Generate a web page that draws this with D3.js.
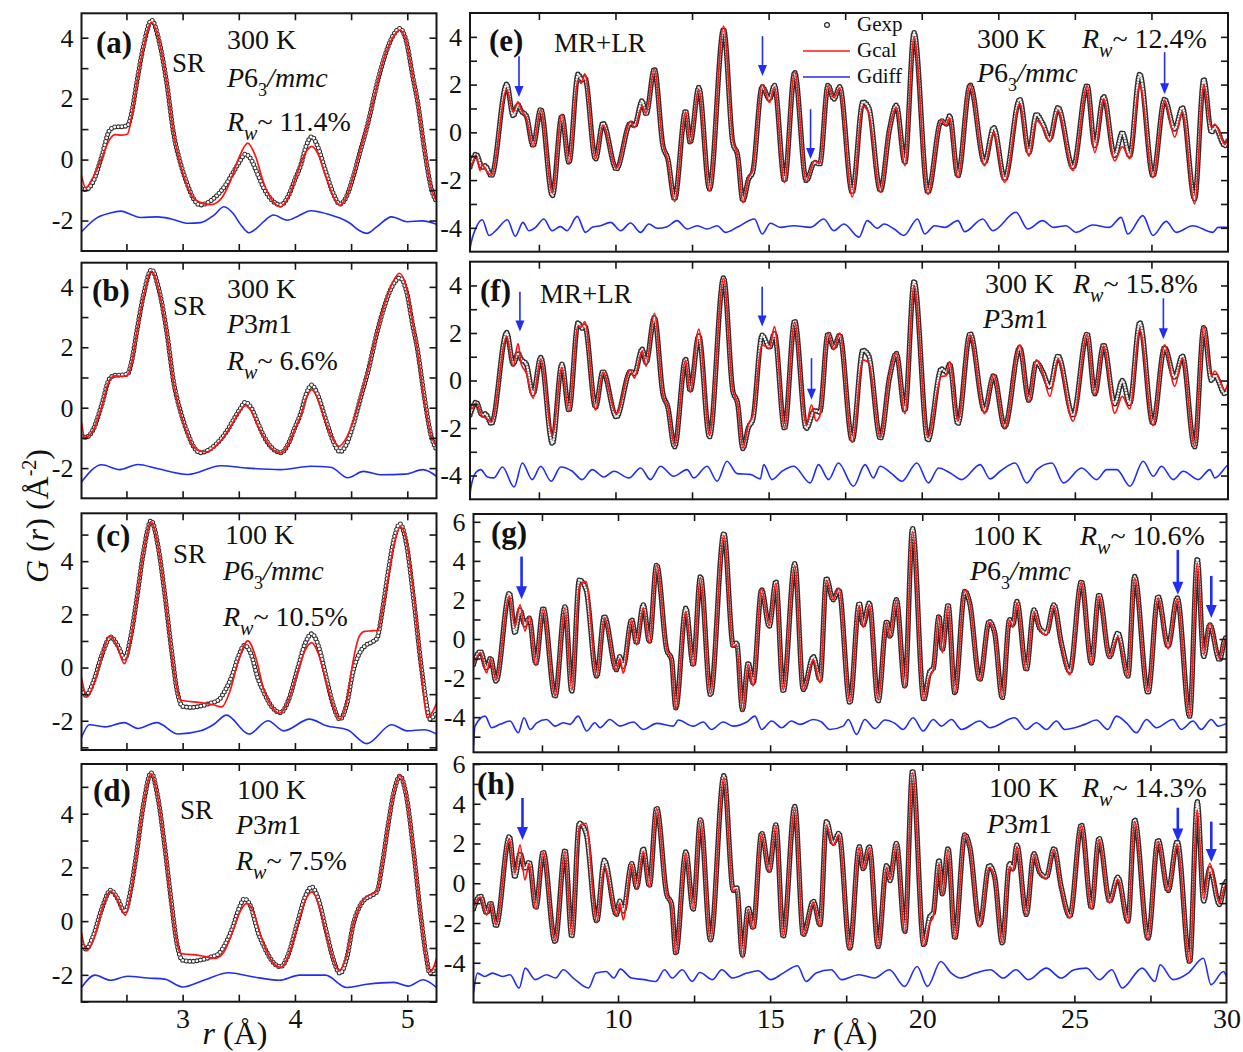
<!DOCTYPE html>
<html>
<head>
<meta charset="utf-8">
<script src="https://cdn.jsdelivr.net/npm/d3@7"></script>
<style>
  body { margin: 0; background: #fff; }
  svg { display: block; }
  text { font-family: "Liberation Serif", "Times New Roman", serif; fill: #111; }
</style>
</head>
<body>
<script>
// ---------- short-range G(r), 300 K ----------
const sr300Exp = [[2.10,-0.95],[2.14,-0.98],[2.20,-0.75],[2.28,0.10],[2.35,0.96],[2.40,1.07],[2.46,1.08],[2.51,1.12],[2.55,1.6],[2.59,2.48],[2.65,3.7],[2.724,4.57],[2.79,3.9],[2.86,2.48],[2.92,0.85],[2.98,-0.1],[3.04,-0.79],[3.10,-1.30],[3.155,-1.49],[3.22,-1.42],[3.30,-1.2],[3.38,-0.85],[3.45,-0.42],[3.51,-0.05],[3.557,0.18],[3.61,0.0],[3.67,-0.5],[3.72,-0.92],[3.80,-1.35],[3.875,-1.49],[3.94,-1.2],[4.0,-0.65],[4.05,-0.20],[4.10,0.45],[4.15,0.75],[4.20,0.45],[4.28,-0.46],[4.34,-1.1],[4.40,-1.46],[4.46,-1.2],[4.52,-0.55],[4.58,0.26],[4.65,1.2],[4.73,2.48],[4.80,3.4],[4.87,4.05],[4.935,4.3],[4.99,3.9],[5.05,2.7],[5.09,1.94],[5.15,0.4],[5.21,-0.89],[5.26,-1.38]];
const sr300CalP63 = [[2.10,-0.52],[2.138,-0.93],[2.20,-0.6],[2.28,0.05],[2.35,0.66],[2.40,0.82],[2.45,0.80],[2.51,0.84],[2.55,1.5],[2.59,2.45],[2.65,3.65],[2.724,4.5],[2.79,3.9],[2.86,2.48],[2.92,0.85],[2.98,-0.15],[3.04,-0.85],[3.10,-1.28],[3.17,-1.42],[3.25,-1.48],[3.34,-1.30],[3.42,-0.75],[3.50,0.05],[3.58,0.54],[3.65,0.1],[3.72,-0.75],[3.80,-1.35],[3.87,-1.55],[3.94,-1.25],[4.02,-0.45],[4.09,0.2],[4.15,0.43],[4.21,0.15],[4.28,-0.6],[4.34,-1.2],[4.40,-1.50],[4.46,-1.2],[4.52,-0.55],[4.58,0.3],[4.65,1.2],[4.73,2.45],[4.80,3.4],[4.87,4.0],[4.935,4.25],[4.99,3.9],[5.05,2.7],[5.09,1.94],[5.15,0.4],[5.21,-0.89],[5.26,-1.35]];
const sr300CalP3m1 = [[2.10,-0.49],[2.13,-0.98],[2.20,-0.78],[2.28,0.05],[2.35,0.92],[2.40,1.05],[2.46,1.04],[2.51,1.07],[2.55,1.55],[2.59,2.45],[2.65,3.65],[2.724,4.52],[2.79,3.85],[2.86,2.45],[2.92,0.8],[2.98,-0.15],[3.04,-0.85],[3.10,-1.30],[3.17,-1.45],[3.22,-1.46],[3.30,-1.25],[3.38,-0.9],[3.45,-0.48],[3.51,-0.12],[3.557,0.07],[3.61,-0.1],[3.67,-0.6],[3.72,-0.95],[3.80,-1.38],[3.875,-1.50],[3.94,-1.22],[4.0,-0.7],[4.05,-0.28],[4.10,0.32],[4.15,0.60],[4.20,0.32],[4.28,-0.55],[4.34,-1.05],[4.39,-1.28],[4.45,-1.05],[4.52,-0.45],[4.58,0.3],[4.65,1.25],[4.73,2.5],[4.80,3.45],[4.87,4.15],[4.93,4.45],[4.99,4.0],[5.05,2.75],[5.09,1.9],[5.15,0.3],[5.21,-0.9],[5.26,-1.28]];
const sr300DiffP63 = [[2.10,-2.37],[2.23,-1.93],[2.35,-1.76],[2.45,-1.69],[2.55,-1.82],[2.63,-1.90],[2.78,-1.88],[2.9,-1.95],[3.05,-2.09],[3.16,-2.07],[3.28,-1.82],[3.368,-1.55],[3.45,-1.77],[3.52,-2.15],[3.59,-2.40],[3.66,-2.25],[3.72,-2.04],[3.81,-1.82],[3.93,-1.99],[4.03,-1.85],[4.14,-1.68],[4.22,-1.72],[4.32,-1.82],[4.40,-1.92],[4.49,-2.09],[4.57,-2.32],[4.64,-2.42],[4.73,-2.20],[4.86,-1.88],[5.00,-2.04],[5.13,-2.01],[5.26,-2.12]];
const sr300DiffP3m1 = [[2.10,-2.46],[2.28,-1.89],[2.44,-2.05],[2.60,-1.88],[2.78,-2.02],[3.05,-2.21],[3.34,-1.92],[3.58,-2.00],[3.87,-2.05],[4.14,-1.94],[4.32,-1.97],[4.47,-2.32],[4.61,-2.11],[4.76,-2.22],[4.98,-2.20],[5.14,-2.05],[5.26,-2.27]];

// ---------- short-range G(r), 100 K ----------
const sr100Exp = [[2.10,-0.82],[2.14,-1.04],[2.20,-0.6],[2.28,0.45],[2.36,1.15],[2.42,0.85],[2.485,0.35],[2.54,1.2],[2.59,2.52],[2.65,4.3],[2.72,5.52],[2.78,4.6],[2.84,2.8],[2.90,0.7],[2.95,-0.85],[3.0,-1.46],[3.08,-1.50],[3.16,-1.45],[3.24,-1.35],[3.32,-1.22],[3.38,-0.85],[3.44,-0.3],[3.50,0.45],[3.55,0.83],[3.61,0.5],[3.67,-0.4],[3.72,-0.9],[3.80,-1.5],[3.87,-1.70],[3.94,-1.25],[4.02,-0.1],[4.09,0.9],[4.15,1.27],[4.21,0.8],[4.28,-0.4],[4.34,-1.4],[4.40,-1.94],[4.46,-1.4],[4.52,-0.1],[4.57,0.5],[4.62,0.8],[4.68,0.95],[4.73,1.1],[4.78,2.2],[4.83,3.6],[4.88,4.8],[4.935,5.4],[4.99,4.7],[5.06,2.45],[5.12,0.2],[5.17,-1.35],[5.20,-1.94],[5.23,-1.85],[5.26,-1.70]];
const sr100CalP63 = [[2.10,-0.38],[2.15,-1.10],[2.21,-0.6],[2.28,0.4],[2.35,1.19],[2.42,0.8],[2.48,0.15],[2.54,1.1],[2.59,2.5],[2.65,4.3],[2.72,5.49],[2.78,4.6],[2.84,2.8],[2.90,0.6],[2.95,-0.8],[2.98,-1.23],[3.08,-1.28],[3.16,-1.32],[3.27,-1.40],[3.35,-1.48],[3.42,-0.9],[3.50,0.3],[3.58,1.0],[3.65,0.4],[3.72,-0.8],[3.80,-1.5],[3.86,-1.72],[3.94,-1.25],[4.02,-0.2],[4.09,0.65],[4.15,0.94],[4.21,0.5],[4.28,-0.55],[4.34,-1.45],[4.40,-1.94],[4.46,-1.3],[4.52,0.3],[4.57,1.15],[4.62,1.36],[4.68,1.38],[4.74,1.40],[4.78,2.2],[4.82,3.13],[4.88,4.6],[4.94,5.29],[4.99,4.8],[5.06,2.6],[5.12,0.1],[5.18,-1.88],[5.22,-1.7],[5.26,-1.35]];
const sr100CalP3m1 = [[2.10,-0.43],[2.145,-1.10],[2.21,-0.65],[2.28,0.4],[2.36,1.12],[2.42,0.8],[2.49,0.22],[2.54,1.1],[2.59,2.5],[2.65,4.3],[2.72,5.48],[2.78,4.6],[2.84,2.8],[2.90,0.6],[2.95,-0.8],[2.98,-1.2],[3.05,-1.24],[3.12,-1.26],[3.20,-1.32],[3.29,-1.39],[3.36,-1.2],[3.44,-0.45],[3.50,0.25],[3.57,0.66],[3.63,0.35],[3.70,-0.6],[3.78,-1.4],[3.875,-1.72],[3.94,-1.3],[4.02,-0.2],[4.09,0.75],[4.15,1.09],[4.21,0.65],[4.28,-0.5],[4.34,-1.4],[4.39,-1.84],[4.46,-1.3],[4.52,-0.1],[4.57,0.5],[4.62,0.85],[4.68,1.0],[4.73,1.12],[4.78,2.2],[4.83,3.6],[4.88,4.8],[4.935,5.43],[4.99,4.7],[5.06,2.45],[5.12,0.2],[5.17,-1.4],[5.20,-1.9],[5.23,-1.75],[5.26,-1.39]];
const sr100DiffP63 = [[2.10,-2.63],[2.17,-2.15],[2.31,-2.23],[2.48,-2.07],[2.60,-2.29],[2.77,-2.07],[2.96,-2.5],[3.16,-2.38],[3.28,-2.13],[3.39,-1.79],[3.59,-2.50],[3.76,-2.0],[3.90,-2.38],[4.13,-1.94],[4.28,-2.19],[4.47,-2.35],[4.64,-2.86],[4.86,-2.15],[5.00,-2.38],[5.15,-2.34],[5.26,-2.5]];
const sr100DiffP3m1 = [[2.10,-2.47],[2.22,-2.01],[2.36,-2.2],[2.51,-2.05],[2.69,-2.12],[2.84,-2.16],[3.0,-2.45],[3.2,-2.18],[3.41,-1.92],[3.62,-2.07],[3.86,-2.2],[4.04,-2.01],[4.27,-2.01],[4.46,-2.47],[4.64,-2.35],[4.88,-2.28],[5.01,-2.42],[5.14,-2.18],[5.26,-2.47]];

// ---------- medium + long range G(r), 300 K ----------
const lr300Exp = [[5.25,-1.45],[5.30,-1.26],[5.45,-0.91],[5.65,-1.46],[5.75,-1.40],[5.95,-1.82],[6.45,2.02],[6.66,0.69],[6.82,1.15],[6.92,0.9],[7.09,0.69],[7.31,-0.56],[7.56,0.97],[7.94,-2.65],[8.25,0.69],[8.48,-1.26],[8.78,2.44],[8.90,2.2],[9.0,2.30],[9.35,-1.12],[9.59,0.39],[10.03,-1.54],[10.49,0.39],[10.62,0.28],[10.87,1.32],[11.0,0.76],[11.27,2.65],[11.55,-0.56],[11.71,-1.12],[11.93,-2.79],[12.29,0.90],[12.44,-0.42],[12.72,1.88],[13.07,-2.37],[13.53,4.32],[13.83,-0.42],[13.99,-0.98],[14.16,-2.86],[14.35,-1.95],[14.48,-1.67],[14.79,1.91],[15.03,1.39],[15.19,1.97],[15.52,-2.02],[15.85,2.51],[16.23,-2.02],[16.5,-1.26],[16.67,-1.33],[16.94,1.97],[17.13,1.39],[17.32,1.91],[17.73,-2.51],[18.08,1.28],[18.27,1.04],[18.65,-2.44],[18.95,0.14],[19.17,1.14],[19.45,-1.26],[19.75,4.18],[20.20,-2.51],[20.64,0.49],[20.80,0.35],[20.91,0.69],[21.18,-1.82],[21.58,1.98],[22.05,-1.26],[22.35,0.21],[22.71,-1.95],[23.2,1.39],[23.5,-0.84],[23.74,0.76],[23.96,0.35],[24.18,-0.28],[24.45,1.04],[24.94,-1.47],[25.40,1.97],[25.65,-0.56],[25.94,1.50],[26.30,-0.98],[26.55,0.0],[26.79,-0.98],[27.12,2.44],[27.55,-1.82],[27.93,1.39],[28.26,0.14],[28.51,1.04],[28.91,-2.79],[29.21,2.23],[29.46,0.0],[29.57,0.21],[29.90,-0.56],[30.0,-0.35]];
const lr300CalP63 = [[5.25,-1.2],[5.30,-1.35],[5.45,-0.95],[5.58,-1.6],[5.65,-1.35],[5.75,-1.55],[5.95,-1.8],[6.45,1.80],[6.66,0.85],[6.82,1.28],[6.92,0.95],[7.09,0.6],[7.31,-0.6],[7.56,0.95],[7.94,-2.55],[8.25,0.75],[8.48,-1.3],[8.78,2.2],[8.88,2.05],[9.0,2.45],[9.35,-1.1],[9.59,0.3],[10.03,-1.5],[10.49,0.45],[10.62,0.2],[10.87,1.1],[11.0,0.8],[11.27,2.65],[11.55,-0.5],[11.71,-1.2],[11.93,-2.9],[12.29,0.85],[12.44,-0.45],[12.72,1.8],[13.07,-2.45],[13.53,4.45],[13.83,-0.3],[13.99,-1.0],[14.16,-2.95],[14.35,-1.9],[14.48,-1.6],[14.79,2.0],[15.03,1.25],[15.19,1.9],[15.52,-2.1],[15.85,2.55],[16.23,-2.05],[16.5,-1.2],[16.67,-1.3],[16.94,1.95],[17.13,1.45],[17.32,1.85],[17.73,-2.7],[18.08,1.1],[18.27,0.8],[18.65,-2.5],[18.95,0.2],[19.17,1.05],[19.45,-1.4],[19.75,4.0],[20.20,-2.6],[20.64,0.5],[20.80,0.3],[20.91,0.6],[21.18,-1.9],[21.58,2.0],[22.05,-1.4],[22.35,0.0],[22.71,-2.1],[23.2,1.2],[23.5,-1.0],[23.74,0.5],[23.96,0.2],[24.18,-0.4],[24.45,0.9],[24.94,-1.6],[25.40,1.95],[25.65,-0.85],[25.94,1.4],[26.30,-1.2],[26.55,-0.6],[26.79,-1.1],[27.12,2.0],[27.55,-1.9],[27.93,1.35],[28.26,-0.2],[28.51,0.85],[28.91,-3.0],[29.21,2.0],[29.46,0.2],[29.57,0.35],[29.90,-0.5],[30.0,-0.3]];
const lr300CalP3m1 = [[5.25,-0.9],[5.30,-1.2],[5.45,-0.95],[5.65,-1.5],[5.80,-1.6],[5.95,-1.75],[6.45,1.85],[6.66,0.6],[6.82,1.55],[6.92,0.7],[7.09,0.31],[7.31,-0.75],[7.56,0.9],[7.94,-2.3],[8.25,0.55],[8.48,-1.3],[8.78,2.3],[8.88,2.25],[9.0,2.48],[9.35,-1.25],[9.59,0.35],[10.03,-1.4],[10.49,0.45],[10.62,0.1],[10.87,1.25],[11.0,0.6],[11.27,2.83],[11.55,-0.6],[11.71,-1.1],[11.93,-2.75],[12.29,0.85],[12.44,-0.5],[12.72,2.16],[13.07,-2.3],[13.53,4.3],[13.83,-0.4],[13.99,-1.0],[14.16,-2.85],[14.35,-1.8],[14.48,-1.5],[14.79,1.50],[15.03,1.35],[15.19,2.27],[15.52,-2.0],[15.85,2.45],[16.23,-1.86],[16.40,-1.02],[16.55,-1.7],[16.67,-1.5],[16.94,2.0],[17.13,1.3],[17.32,2.0],[17.73,-2.6],[18.08,0.87],[18.27,0.75],[18.65,-2.4],[18.95,0.2],[19.17,1.15],[19.45,-1.4],[19.75,4.0],[20.20,-2.4],[20.64,0.17],[20.80,0.2],[20.91,0.8],[21.18,-1.7],[21.58,1.92],[22.05,-1.4],[22.35,0.25],[22.71,-2.0],[23.2,1.5],[23.5,-0.9],[23.74,0.87],[23.96,0.3],[24.18,-0.67],[24.45,0.9],[24.94,-1.72],[25.40,1.95],[25.65,-0.6],[25.94,1.45],[26.30,-1.38],[26.55,-0.67],[26.79,-1.2],[27.12,2.13],[27.55,-1.9],[27.93,1.5],[28.26,-0.25],[28.51,0.95],[28.91,-2.77],[29.21,2.27],[29.46,0.2],[29.57,0.4],[29.90,-0.4],[30.0,-0.1]];
const lr300DiffP63 = [[5.25,-4.9],[5.28,-4.67],[5.43,-4.05],[5.65,-3.66],[5.87,-4.32],[6.14,-4.05],[6.47,-3.66],[6.73,-4.35],[6.98,-3.77],[7.17,-4.12],[7.39,-3.98],[7.66,-3.63],[7.93,-4.12],[8.2,-3.95],[8.42,-4.12],[8.75,-3.52],[9.02,-4.19],[9.24,-3.98],[9.51,-3.91],[9.84,-3.77],[10.17,-4.12],[10.49,-3.80],[10.82,-4.19],[11.09,-3.84],[11.36,-4.02],[11.69,-3.95],[12.01,-3.70],[12.34,-4.05],[12.67,-3.91],[12.99,-4.05],[13.32,-3.91],[13.59,-4.19],[13.97,-3.98],[14.54,-3.63],[14.79,-4.26],[15.06,-3.81],[15.39,-3.98],[15.82,-3.91],[16.37,-3.98],[16.8,-3.63],[17.13,-4.12],[17.46,-3.84],[17.95,-4.39],[18.22,-3.70],[18.55,-4.02],[18.77,-3.84],[19.10,-4.05],[19.42,-4.32],[19.86,-3.63],[20.10,-4.26],[20.42,-3.91],[20.75,-3.98],[21.18,-3.70],[21.40,-4.16],[21.99,-3.63],[22.32,-4.12],[23.08,-3.35],[23.46,-4.05],[23.95,-3.70],[24.30,-3.98],[24.71,-3.91],[25.04,-4.19],[25.58,-3.88],[26.13,-3.98],[26.51,-3.56],[26.73,-4.26],[27.22,-3.49],[27.55,-4.32],[27.98,-3.73],[28.31,-4.19],[28.85,-3.91],[29.51,-4.19],[29.67,-3.98],[30.0,-3.98]];
const lr300DiffP3m1 = [[5.25,-4.9],[5.27,-4.59],[5.44,-3.87],[5.60,-3.75],[5.82,-4.06],[6.03,-4.1],[6.31,-3.64],[6.69,-4.48],[6.96,-3.47],[7.28,-4.17],[7.56,-3.61],[7.90,-4.24],[8.21,-3.64],[8.59,-3.82],[8.91,-4.17],[9.24,-3.75],[9.62,-4.06],[9.95,-3.82],[10.44,-4.10],[10.82,-3.68],[11.14,-4.17],[11.47,-3.61],[11.90,-4.03],[12.34,-3.75],[12.56,-4.10],[12.99,-3.61],[13.32,-4.24],[13.64,-3.40],[13.97,-3.92],[14.40,-3.95],[14.73,-4.14],[14.84,-3.54],[15.11,-4.17],[15.44,-3.82],[15.82,-3.61],[16.36,-4.31],[16.63,-3.54],[16.96,-4.17],[17.28,-3.47],[17.77,-4.45],[18.15,-3.54],[18.42,-4.10],[18.64,-3.61],[19.02,-3.92],[19.35,-4.24],[19.84,-3.47],[20.22,-4.31],[20.55,-3.68],[20.93,-3.89],[21.31,-4.17],[21.91,-3.54],[22.23,-4.14],[22.56,-3.82],[23.05,-3.47],[23.43,-4.31],[23.76,-3.75],[24.25,-3.47],[24.63,-4.31],[25.22,-3.68],[25.71,-4.17],[26.04,-3.75],[26.37,-3.75],[26.80,-4.45],[27.23,-3.40],[27.56,-4.03],[27.83,-3.61],[28.21,-4.17],[28.54,-3.82],[29.03,-4.17],[29.41,-3.75],[29.57,-4.10],[29.95,-3.61],[30.0,-3.55]];

// ---------- medium + long range G(r), 100 K ----------
const lr100Exp = [[5.25,-1.3],[5.30,-1.05],[5.48,-0.64],[5.68,-1.49],[5.81,-0.98],[5.99,-2.16],[6.43,2.35],[6.61,0.31],[6.78,1.49],[6.94,0.73],[7.08,1.07],[7.30,-1.23],[7.54,1.58],[7.93,-2.94],[8.26,1.66],[8.48,-2.68],[8.73,3.03],[8.95,2.52],[9.30,-1.90],[9.55,1.16],[9.95,-1.57],[10.06,-0.90],[10.17,-1.40],[10.45,0.99],[10.61,-0.20],[10.83,1.75],[11.03,-0.12],[11.27,3.79],[11.60,-0.54],[11.76,-1.05],[11.90,-3.52],[12.23,1.58],[12.47,-1.32],[12.71,3.20],[13.04,-2.85],[13.48,5.41],[13.79,-0.37],[13.90,-0.20],[14.09,-3.61],[14.28,-1.23],[14.44,-2.25],[14.72,2.52],[14.97,0.65],[15.19,2.94],[15.43,-2.68],[15.81,3.86],[16.09,-2.59],[16.42,-0.90],[16.64,-2.08],[16.85,3.11],[17.07,2.01],[17.26,2.52],[17.62,-3.26],[17.93,1.84],[18.06,0.73],[18.26,1.84],[18.55,-3.18],[18.83,0.90],[18.94,0.14],[19.15,2.01],[19.43,-2.42],[19.68,5.66],[20.05,-3.10],[20.25,-1.66],[20.36,-1.5],[20.55,1.16],[20.66,-0.54],[20.85,1.75],[21.07,-2.76],[21.40,2.44],[21.56,1.84],[21.89,-2.08],[22.20,0.90],[22.38,0.31],[22.63,-3.01],[22.87,0.99],[22.98,0.73],[23.11,1.92],[23.42,-1.57],[23.67,1.49],[23.86,0.56],[24.08,0.31],[24.33,1.75],[24.57,-0.20],[24.85,-1.66],[25.23,2.94],[25.56,-1.23],[25.81,2.27],[26.16,-0.90],[26.43,0.31],[26.76,-1.90],[26.98,3.20],[27.42,-2.76],[27.75,2.18],[28.08,-0.37],[28.38,2.10],[28.79,-3.95],[29.04,4.11],[29.25,-0.90],[29.45,0.73],[29.77,-1.07],[29.94,-0.03],[30.0,0.1]];
const lr100CalP63 = [[5.25,-1.2],[5.30,-1.1],[5.48,-0.7],[5.68,-1.74],[5.81,-1.0],[5.99,-2.1],[6.43,2.2],[6.61,0.65],[6.78,1.75],[6.94,0.4],[7.08,1.16],[7.30,-1.35],[7.54,1.55],[7.93,-2.9],[8.26,1.6],[8.48,-2.6],[8.73,2.69],[8.95,2.94],[9.30,-1.95],[9.55,1.1],[9.95,-1.6],[10.06,-1.0],[10.17,-1.74],[10.45,0.95],[10.61,-0.3],[10.83,1.6],[11.03,-0.2],[11.27,3.79],[11.60,-0.5],[11.76,-1.1],[11.90,-3.6],[12.23,1.4],[12.47,-1.4],[12.71,3.15],[13.04,-2.8],[13.48,5.3],[13.79,-0.4],[13.90,-0.3],[14.09,-3.7],[14.28,-1.3],[14.44,-2.4],[14.72,2.55],[14.97,0.7],[15.19,2.85],[15.43,-2.6],[15.81,3.75],[16.09,-2.6],[16.42,-1.07],[16.64,-2.25],[16.85,3.0],[17.07,2.0],[17.26,2.6],[17.62,-3.2],[17.93,1.7],[18.06,0.6],[18.26,1.75],[18.55,-3.1],[18.83,0.85],[18.94,0.1],[19.15,2.0],[19.43,-2.5],[19.68,5.5],[20.05,-3.1],[20.25,-1.9],[20.36,-1.6],[20.55,1.2],[20.66,-0.7],[20.85,1.7],[21.07,-2.8],[21.40,2.5],[21.56,1.9],[21.89,-2.1],[22.20,0.85],[22.38,0.35],[22.63,-3.0],[22.87,0.95],[22.98,0.6],[23.11,1.85],[23.42,-1.6],[23.67,1.4],[23.86,0.5],[24.08,0.2],[24.33,1.7],[24.57,-0.3],[24.85,-1.83],[25.23,2.9],[25.56,-1.3],[25.81,2.2],[26.16,-0.9],[26.43,0.1],[26.76,-1.9],[26.98,3.1],[27.42,-2.7],[27.75,2.1],[28.08,-0.5],[28.38,2.05],[28.79,-3.95],[29.04,3.9],[29.25,-0.8],[29.45,0.8],[29.77,-1.0],[29.94,-0.1],[30.0,0.0]];
const lr100CalP3m1 = [[5.25,-1.15],[5.30,-1.0],[5.48,-0.7],[5.68,-1.6],[5.81,-1.0],[5.99,-2.1],[6.43,2.25],[6.61,0.5],[6.78,1.93],[6.94,0.17],[7.08,1.0],[7.30,-1.3],[7.54,1.55],[7.93,-2.9],[8.26,1.6],[8.48,-2.6],[8.73,2.85],[8.95,3.02],[9.30,-1.95],[9.55,0.84],[9.95,-1.6],[10.06,-1.0],[10.17,-1.84],[10.45,0.95],[10.61,-0.3],[10.83,1.6],[11.03,-0.2],[11.27,3.75],[11.60,-0.5],[11.76,-1.1],[11.90,-3.55],[12.23,1.5],[12.47,-1.3],[12.71,3.15],[13.04,-2.85],[13.48,5.3],[13.79,-0.4],[13.90,-0.3],[14.09,-3.75],[14.28,-1.3],[14.44,-2.3],[14.72,2.5],[14.97,0.6],[15.19,2.9],[15.43,-2.65],[15.81,3.8],[16.09,-2.6],[16.42,-0.95],[16.64,-2.15],[16.85,2.93],[17.07,1.9],[17.26,2.43],[17.62,-3.3],[17.93,1.8],[18.06,0.7],[18.26,1.8],[18.55,-3.2],[18.83,0.8],[18.94,0.2],[19.15,1.95],[19.43,-2.5],[19.68,5.55],[20.05,-3.15],[20.25,-2.0],[20.36,-1.7],[20.55,1.0],[20.66,-0.6],[20.85,1.7],[21.07,-2.8],[21.40,2.43],[21.56,1.8],[21.89,-2.2],[22.20,0.8],[22.38,0.3],[22.63,-3.0],[22.87,0.84],[22.98,0.6],[23.11,1.85],[23.42,-1.6],[23.67,1.45],[23.86,0.5],[24.08,0.25],[24.33,1.7],[24.57,-0.3],[24.85,-1.75],[25.23,2.9],[25.56,-1.3],[25.81,2.2],[26.16,-1.0],[26.43,0.2],[26.76,-2.0],[26.98,3.1],[27.42,-2.8],[27.75,2.1],[28.08,-0.4],[28.38,1.95],[28.79,-4.0],[29.04,3.69],[29.25,-0.8],[29.45,1.0],[29.77,-1.0],[29.94,-0.2],[30.0,-0.1]];
const lr100DiffP63 = [[5.25,-5.48],[5.30,-4.46],[5.63,-3.95],[5.85,-4.54],[6.12,-4.37],[6.45,-4.20],[6.72,-4.80],[6.91,-4.03],[7.11,-4.63],[7.33,-4.29],[7.65,-4.12],[7.93,-4.46],[8.20,-4.29],[8.42,-4.37],[8.69,-3.95],[8.97,-4.71],[9.24,-4.29],[9.41,-4.54],[9.73,-4.12],[10.06,-4.46],[10.50,-4.25],[10.83,-4.63],[11.27,-4.32],[11.82,-4.46],[11.98,-4.15],[12.47,-4.46],[12.80,-4.25],[13.07,-4.63],[13.46,-4.25],[13.79,-4.46],[14.23,-4.25],[14.50,-3.95],[14.72,-4.63],[15.05,-4.20],[15.38,-4.54],[15.70,-4.20],[15.98,-4.37],[16.42,-4.12],[16.69,-4.25],[16.96,-4.63],[17.40,-4.46],[17.57,-4.12],[17.84,-4.88],[18.11,-4.12],[18.44,-4.59],[18.77,-4.15],[19.10,-4.32],[19.37,-4.63],[19.70,-4.03],[20.03,-4.71],[20.36,-4.12],[20.63,-4.46],[20.96,-4.12],[21.29,-4.63],[21.89,-4.20],[22.22,-4.54],[23.04,-4.03],[23.42,-4.63],[23.75,-4.29],[24.08,-4.63],[24.41,-4.20],[24.68,-4.63],[25.34,-4.37],[25.72,-4.15],[26.10,-4.63],[26.38,-3.95],[26.71,-4.29],[27.04,-4.80],[27.37,-4.12],[27.69,-4.54],[28.24,-4.12],[28.51,-4.63],[28.90,-4.20],[29.17,-4.63],[29.50,-4.12],[29.72,-4.46],[30.0,-4.32]];
const lr100DiffP3m1 = [[5.25,-5.5],[5.38,-4.52],[5.62,-4.69],[5.87,-4.52],[6.21,-4.69],[6.45,-4.6],[6.75,-5.27],[6.95,-4.27],[7.28,-4.85],[7.65,-4.60],[7.95,-4.77],[8.20,-4.35],[8.53,-4.77],[9.03,-5.27],[9.28,-4.52],[9.61,-4.44],[9.86,-4.77],[10.08,-4.32],[10.44,-4.77],[10.86,-4.85],[11.24,-4.94],[11.53,-4.35],[11.78,-4.77],[12.11,-4.35],[12.44,-4.94],[12.69,-4.49],[13.11,-4.85],[13.41,-4.35],[13.77,-4.77],[14.24,-4.52],[14.60,-4.40],[15.02,-4.85],[15.43,-4.52],[15.90,-4.15],[16.18,-4.94],[16.51,-4.52],[17.01,-4.35],[17.34,-4.85],[17.92,-4.60],[18.42,-4.77],[18.92,-4.35],[19.42,-5.19],[19.83,-4.19],[20.17,-5.19],[20.61,-3.94],[20.95,-4.52],[21.25,-4.77],[21.75,-4.52],[22.24,-4.35],[22.66,-4.77],[23.08,-4.35],[23.49,-4.85],[24.08,-4.27],[24.57,-4.77],[24.99,-4.35],[25.40,-4.27],[25.82,-4.85],[26.23,-4.35],[26.57,-5.27],[27.23,-4.27],[27.65,-4.94],[27.82,-4.10],[28.24,-4.85],[28.74,-4.52],[29.24,-3.77],[29.49,-5.10],[29.90,-4.44],[30.0,-4.72]];

// arrows marking misfit features: [r, G at tail, G at tip]
const arrowsE = [[6.85,3.19,1.48],[14.80,4.03,2.36],[16.37,0.97,-1.12],[27.93,3.36,1.6]];
const arrowsF = [[6.88,3.74,2.06],[14.79,3.95,2.27],[16.40,0.94,-0.81],[27.89,3.46,1.74]];
const arrowsG = [[6.83,4.22,2.04],[28.40,4.56,2.26],[29.50,3.23,1.07]];
const arrowsH = [[6.86,4.29,2.18],[28.40,3.80,2.10],[29.50,3.10,1.07]];

// tick values
const srMajorX = [3, 4, 5];
const srMinorX = [2.5, 3.5, 4.5];
const lrMajorX = [10, 15, 20, 25, 30];
const lrMinorX = [7.5, 12.5, 17.5, 22.5, 27.5];
const yMajorSR = [-2, 0, 2, 4];
const yMinorSR300 = [-1, 1, 3];
const yMinorSR100 = [-3, -1, 1, 3, 5];
const yMajorLR300 = [-4, -2, 0, 2, 4];
const yMinorLR300 = [-3, -1, 1, 3];
const yMajorLR100 = [-4, -2, 0, 2, 4, 6];
const yMinorLR100 = [-5, -3, -1, 1, 3, 5];

// ---------- drawing ----------
const RED = '#ff1414', BLUE = '#1f2ef2', INK = '#161616';
const svg = d3.select('body').append('svg').attr('width', 1243).attr('height', 1052);

const SG_P63 = [{t:'P',i:1},{t:'6'},{t:'3',s:18,dy:9},{t:'/mmc',i:1,dy:-9}];
const SG_P3M1 = [{t:'P',i:1},{t:'3'},{t:'m',i:1},{t:'1'}];
const rw = v => [{t:'R',i:1},{t:'w',i:1,s:20,dy:9},{t:'~ ' + v + '%',dy:-9}];

const panels = [
  {key:'a', box:[81.5,13.3,436.5,251], xDom:[2.1,5.26], yDom:[-3,4.8], xMaj:srMajorX, xMin:srMinorX, yMaj:yMajorSR, yMin:yMinorSR300, xLab:false,
   exp:sr300Exp, cal:sr300CalP63, diff:sr300DiffP63, dense:false, arrows:[],
   notes:[[96,53,31,[{t:'(a)',b:1}]],[172,72,27,[{t:'SR'}]],[227,49,28,[{t:'300 K'}]],[227,87,28,SG_P63],[227,131,28,rw('11.4')]]},
  {key:'b', box:[81.5,262.7,436.5,498.3], xDom:[2.1,5.26], yDom:[-3,4.8], xMaj:srMajorX, xMin:srMinorX, yMaj:yMajorSR, yMin:yMinorSR300, xLab:false,
   exp:sr300Exp, cal:sr300CalP3m1, diff:sr300DiffP3m1, dense:false, arrows:[],
   notes:[[92,301,31,[{t:'(b)',b:1}]],[173,315,27,[{t:'SR'}]],[227,298,28,[{t:'300 K'}]],[227,333,28,SG_P3M1],[227,370,28,rw('6.6')]]},
  {key:'c', box:[81.5,513.3,436.5,750], xDom:[2.1,5.26], yDom:[-3.1,5.8], xMaj:srMajorX, xMin:srMinorX, yMaj:yMajorSR, yMin:yMinorSR100, xLab:false,
   exp:sr100Exp, cal:sr100CalP63, diff:sr100DiffP63, dense:false, arrows:[],
   notes:[[96,546,31,[{t:'(c)',b:1}]],[173,563,27,[{t:'SR'}]],[225,544,28,[{t:'100 K'}]],[223,580,28,SG_P63],[223,626,28,rw('10.5')]]},
  {key:'d', box:[81.5,764,436.5,1001.7], xDom:[2.1,5.26], yDom:[-3,5.85], xMaj:srMajorX, xMin:srMinorX, yMaj:yMajorSR, yMin:yMinorSR100, xLab:true,
   exp:sr100Exp, cal:sr100CalP3m1, diff:sr100DiffP3m1, dense:false, arrows:[],
   notes:[[93,801,31,[{t:'(d)',b:1}]],[180,819,27,[{t:'SR'}]],[237,799,28,[{t:'100 K'}]],[236,834,28,SG_P3M1],[236,870,28,rw('7.5')]]},
  {key:'e', box:[470,13,1228,251.7], xDom:[5.25,30], yDom:[-5,5], xMaj:lrMajorX, xMin:lrMinorX, yMaj:yMajorLR300, yMin:yMinorLR300, xLab:false,
   exp:lr300Exp, cal:lr300CalP63, diff:lr300DiffP63, dense:true, arrows:arrowsE, thick:false, legend:true,
   notes:[[489,51,31,[{t:'(e)',b:1}]],[554,52,27,[{t:'MR+LR'}]],[977,48,28,[{t:'300 K'}]],[1082,48,28,rw('12.4')],[977,82,28,SG_P63]]},
  {key:'f', box:[470,261.7,1228,499.3], xDom:[5.25,30], yDom:[-5,5], xMaj:lrMajorX, xMin:lrMinorX, yMaj:yMajorLR300, yMin:yMinorLR300, xLab:false,
   exp:lr300Exp, cal:lr300CalP3m1, diff:lr300DiffP3m1, dense:true, arrows:arrowsF, thick:false,
   notes:[[480,301,31,[{t:'(f)',b:1}]],[540,303,27,[{t:'MR+LR'}]],[985,293,28,[{t:'300 K'}]],[1073,293,28,rw('15.8')],[983,328,28,SG_P3M1]]},
  {key:'g', box:[473.5,514,1226.5,752.3], xDom:[5.25,30], yDom:[-5.8,6.4], xMaj:lrMajorX, xMin:lrMinorX, yMaj:yMajorLR100, yMin:yMinorLR100, xLab:false,
   exp:lr100Exp, cal:lr100CalP63, diff:lr100DiffP63, dense:true, arrows:arrowsG, thick:true,
   notes:[[491,543,31,[{t:'(g)',b:1}]],[973,545,28,[{t:'100 K'}]],[1080,545,28,rw('10.6')],[970,580,28,SG_P63]]},
  {key:'h', box:[473.5,764,1226.5,1002.5], xDom:[5.25,30], yDom:[-6,6], xMaj:lrMajorX, xMin:lrMinorX, yMaj:yMajorLR100, yMin:yMinorLR100, xLab:true,
   exp:lr100Exp, cal:lr100CalP3m1, diff:lr100DiffP3m1, dense:true, arrows:arrowsH, thick:true,
   notes:[[477,794,31,[{t:'(h)',b:1}]],[989,797,28,[{t:'100 K'}]],[1082,797,28,rw('14.3')],[987,833,28,SG_P3M1]]}
];

function addText(g, x, y, size, parts) {
  const t = g.append('text').attr('x', x).attr('y', y).style('font-size', size + 'px');
  parts.forEach(p => {
    const s = t.append('tspan').text(p.t);
    if (p.i) s.style('font-style', 'italic');
    if (p.b) s.style('font-weight', 'bold');
    if (p.s) s.style('font-size', p.s + 'px');
    if (p.dy) s.attr('dy', p.dy);
  });
  return t;
}

function styleAxis(sel, withLabels, fontSize) {
  sel.select('.domain').remove();
  sel.selectAll('.tick line').attr('stroke', INK).attr('stroke-width', 1.6);
  sel.selectAll('.tick text').style('font-family', '"Liberation Serif", serif')
     .style('font-size', fontSize + 'px').attr('fill', INK);
  if (!withLabels) sel.selectAll('.tick text').remove();
}

panels.forEach(p => {
  const [x0, y0, x1, y1] = p.box;
  const x = d3.scaleLinear().domain(p.xDom).range([x0, x1]);
  const y = d3.scaleLinear().domain(p.yDom).range([y1, y0]);
  const g = svg.append('g').attr('class', 'panel-' + p.key);
  const TL = 7;
  const fmt = d => String(d);

  // curves, clipped to the frame
  const clipId = 'clip-' + p.key;
  g.append('clipPath').attr('id', clipId).append('rect')
    .attr('x', x0).attr('y', y0).attr('width', x1 - x0).attr('height', y1 - y0);
  const plot = g.append('g').attr('clip-path', `url(#${clipId})`);
  const line = d3.line().x(d => x(d[0])).y(d => y(d[1])).curve(d3.curveMonotoneX);

  // experimental G(r): open circle markers strung along the curve
  const dot = p.dense ? {outer: 5.4, inner: 2.6, gap: 2.7, fill: '#eeeeee'}
                      : {outer: 5.0, inner: 2.9, gap: 3.6, fill: '#ffffff'};
  plot.append('path').attr('d', line(p.exp)).attr('fill', 'none')
    .attr('stroke', '#2e2e2e').attr('stroke-width', dot.outer).attr('stroke-linecap', 'round')
    .attr('stroke-dasharray', `0 ${dot.gap}`);
  plot.append('path').attr('d', line(p.exp)).attr('fill', 'none')
    .attr('stroke', dot.fill).attr('stroke-width', dot.inner).attr('stroke-linecap', 'round')
    .attr('stroke-dasharray', `0 ${dot.gap}`);
  // fitted G(r)
  plot.append('path').attr('d', line(p.cal)).attr('fill', 'none')
    .attr('stroke', RED).attr('stroke-width', 1.7).attr('stroke-linejoin', 'round');
  // difference curve
  plot.append('path').attr('d', line(p.diff)).attr('fill', 'none')
    .attr('stroke', BLUE).attr('stroke-width', 1.6).attr('stroke-linejoin', 'round');

  // inward ticks on all four sides
  const ax = g.append('g');
  ax.append('g').attr('transform', `translate(${x0},0)`)
    .call(d3.axisLeft(y).tickValues(p.yMaj).tickSize(-TL).tickPadding(8).tickFormat(fmt))
    .call(s => styleAxis(s, true, 26));
  ax.append('g').attr('transform', `translate(${x0},0)`)
    .call(d3.axisLeft(y).tickValues(p.yMin).tickSize(-TL).tickFormat(''))
    .call(s => styleAxis(s, false, 26));
  ax.append('g').attr('transform', `translate(${x1},0)`)
    .call(d3.axisRight(y).tickValues(p.yMaj.concat(p.yMin)).tickSize(-TL).tickFormat(''))
    .call(s => styleAxis(s, false, 26));
  ax.append('g').attr('transform', `translate(0,${y0})`)
    .call(d3.axisTop(x).tickValues(p.xMaj.concat(p.xMin).filter(v => x(v) < x1 - 2)).tickSize(-TL).tickFormat(''))
    .call(s => styleAxis(s, false, 26));
  ax.append('g').attr('transform', `translate(0,${y1})`)
    .call(d3.axisBottom(x).tickValues(p.xMin.concat(p.xMaj).filter(v => x(v) < x1 - 2)).tickSize(-TL).tickFormat(''))
    .call(s => styleAxis(s, false, 26));
  if (p.xLab) {
    ax.append('g').attr('transform', `translate(0,${y1})`)
      .call(d3.axisBottom(x).tickValues(p.xMaj).tickSize(0).tickPadding(6).tickFormat(fmt))
      .call(s => styleAxis(s, true, 28));
  }

  // frame
  g.append('rect').attr('x', x0).attr('y', y0).attr('width', x1 - x0).attr('height', y1 - y0)
    .attr('fill', 'none').attr('stroke', INK).attr('stroke-width', 2);

  // arrows
  p.arrows.forEach(a => {
    const ax0 = x(a[0]), yt = y(a[1]), yp = y(a[2]);
    const hl = p.thick ? 13 : 11, hw = p.thick ? 5.5 : 4.5;
    g.append('line').attr('x1', ax0).attr('x2', ax0).attr('y1', yt).attr('y2', yp - hl + 2)
      .attr('stroke', BLUE).attr('stroke-width', p.thick ? 2.6 : 1.6);
    g.append('path').attr('d', `M${ax0 - hw},${yp - hl}L${ax0 + hw},${yp - hl}L${ax0},${yp}Z`)
      .attr('fill', BLUE);
  });

  // annotations
  p.notes.forEach(n => addText(g, n[0], n[1], n[2], n[3]));

  // legend
  if (p.legend) {
    const lg = g.append('g');
    lg.append('circle').attr('cx', 827).attr('cy', 25).attr('r', 2.4)
      .attr('fill', '#fff').attr('stroke', '#2b2b2b').attr('stroke-width', 1.2);
    lg.append('line').attr('x1', 803).attr('x2', 850).attr('y1', 51).attr('y2', 51)
      .attr('stroke', RED).attr('stroke-width', 1.7);
    lg.append('line').attr('x1', 803).attr('x2', 850).attr('y1', 77).attr('y2', 77)
      .attr('stroke', BLUE).attr('stroke-width', 1.7);
    [['Gexp', 31], ['Gcal', 57], ['Gdiff', 83]].forEach(([t, yy]) =>
      lg.append('text').attr('x', 857).attr('y', yy).style('font-size', '21px').text(t));
  }
});

// axis titles
addText(svg, 235, 1044, 32, [{t:'r',i:1},{t:' (Å)'}]).attr('text-anchor', 'middle');
addText(svg, 845, 1044, 32, [{t:'r',i:1},{t:' (Å)'}]).attr('text-anchor', 'middle');
addText(svg, 0, 0, 32, [{t:'G',i:1},{t:' ('},{t:'r',i:1},{t:') (Å'},{t:'-2',s:20,dy:-12},{t:')',dy:12}])
  .attr('text-anchor', 'middle').attr('transform', 'translate(48,516) rotate(-90)');
</script>
</body>
</html>
